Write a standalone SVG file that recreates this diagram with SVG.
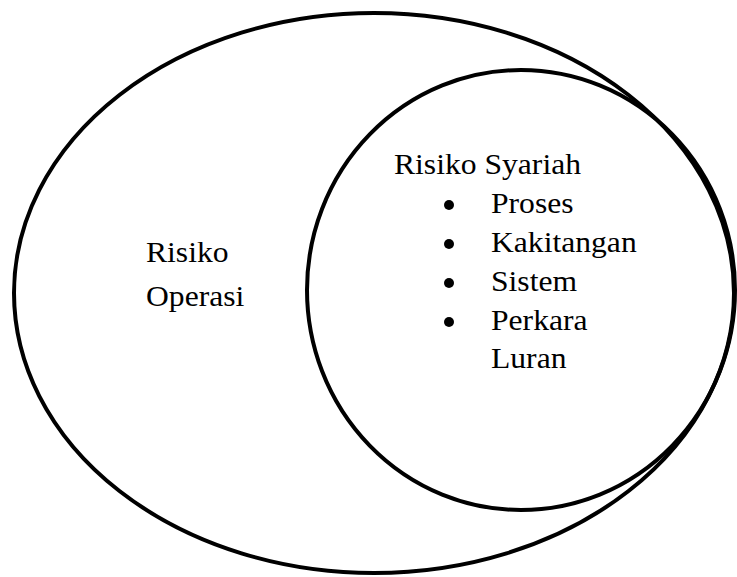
<svg xmlns="http://www.w3.org/2000/svg" width="737" height="577" viewBox="0 0 737 577">
  <style>
    text { font-family: "Liberation Serif", "Times New Roman", "DejaVu Serif", serif; font-size: 29px; fill: #000; }
    .ring { fill: none; stroke: #000; stroke-width: 4; }
    .dot { fill: #000; }
  </style>
  <rect width="737" height="577" fill="#fff"/>
  <!-- outer set; labels are widened slightly with a horizontal scale -->
  <g id="risiko-operasi">
    <ellipse class="ring" cx="374" cy="293" rx="360" ry="280"/>
    <text transform="matrix(1.09 0 0 1 146 262)">Risiko</text>
    <text transform="matrix(1.09 0 0 1 146 306)">Operasi</text>
  </g>
  <!-- inner set with its bullet list -->
  <g id="risiko-syariah">
    <ellipse class="ring" cx="521" cy="290" rx="214" ry="220"/>
    <text transform="matrix(1.09 0 0 1 394 174)">Risiko Syariah</text>
    <circle class="dot" cx="449" cy="205" r="5"/>
    <text transform="matrix(1.09 0 0 1 491 213)">Proses</text>
    <circle class="dot" cx="449" cy="244" r="5"/>
    <text transform="matrix(1.09 0 0 1 491 252)">Kakitangan</text>
    <circle class="dot" cx="449" cy="283" r="5"/>
    <text transform="matrix(1.09 0 0 1 491 291)">Sistem</text>
    <circle class="dot" cx="449" cy="322" r="5"/>
    <text transform="matrix(1.09 0 0 1 491 330)">Perkara</text>
    <text transform="matrix(1.09 0 0 1 491 368)">Luran</text>
  </g>
</svg>
